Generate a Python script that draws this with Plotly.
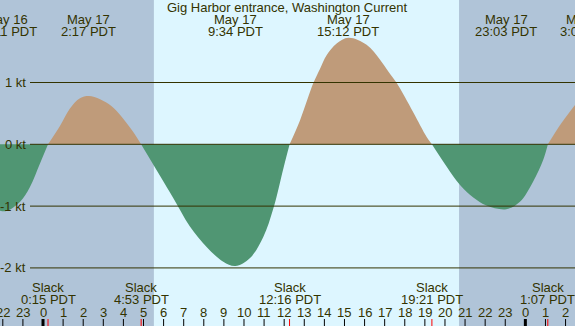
import plotly.graph_objects as go

W, H = 575, 326

# ---------------- data ----------------
title_text = "Gig Harbor entrance, Washington Current"

# current curve: hours after midnight May 17 (PDT) and speed in knots
curve_hours = [-2.2, -1.82, -1.14, -0.65, -0.15, 0.25,
               0.85, 1.34, 1.84, 2.28, 2.84, 3.4, 3.83, 4.49, 4.88,
               5.82, 6.48, 7.31, 8.14, 8.97, 9.57, 10.3, 10.96, 11.46, 11.96, 12.27,
               12.79, 13.45, 13.78, 14.11, 14.61, 15.2, 16.1, 16.77, 17.2, 17.6, 18.42, 19.09, 19.35,
               20.08, 20.75, 21.41, 22.07, 23.05, 23.73, 24.39, 24.89, 25.12,
               25.72, 26.5]
curve_kt = [-1.07, -1.08, -0.93, -0.69, -0.31, 0.0,
            0.3, 0.58, 0.745, 0.78, 0.73, 0.62, 0.48, 0.2, 0.0,
            -0.51, -0.87, -1.33, -1.66, -1.9, -1.97, -1.84, -1.5, -1.04, -0.39, 0.0,
            0.39, 0.99, 1.22, 1.44, 1.63, 1.725, 1.61, 1.37, 1.17, 0.99, 0.52, 0.12, 0.0,
            -0.36, -0.66, -0.86, -0.99, -1.05, -0.93, -0.6, -0.25, 0.0,
            0.31, 0.65]

max_dates = ["May 16", "May 17", "May 17", "May 17", "May 17", "May 18"]
max_times = ["22:11", "2:17", "9:34", "15:12", "23:03", "3:06"]
slack_dates = ["May 17", "May 17", "May 17", "May 17", "May 18"]
slack_times = ["0:15", "4:53", "12:16", "19:21", "1:07"]

sunrise = ("May 17", "5:31")
sunset = ("May 17", "20:42")

hour_ticks = list(range(-2, 27))
hour_labels = ["22", "23", "0", "1", "2", "3", "4", "5", "6", "7", "8", "9", "10",
               "11", "12", "13", "14", "15", "16", "17", "18", "19", "20", "21",
               "22", "23", "0", "1", "2"]

kt_ticks = [1, 0, -1, -2]
kt_labels = ["1 kt", "0 kt", "-1 kt", "-2 kt"]

# ---------------- style ----------------
FONT = "Liberation Sans"
FS = 13
TXT = "#333300"
DAY = "#ddf6ff"
NIGHT = "#b0c4d8"
FLOOD = "#bf9b7a"
EBB = "#509673"

X0, X1 = -2.14, 26.47
Y0, Y1 = -2.94, 2.335

day_offset = {"May 16": -24, "May 17": 0, "May 18": 24}


def to_hours(date, t):
    hh, mm = t.split(":")
    return day_offset[date] + int(hh) + int(mm) / 60.0


def xp(h):
    return (h - X0) / (X1 - X0)


def yp(py):
    return 1 - py / H


fig = go.Figure()

# curve segments between slack points
segs = []
cur = [(curve_hours[0], curve_kt[0])]
for h, v in zip(curve_hours[1:], curve_kt[1:]):
    cur.append((h, v))
    if v == 0:
        segs.append(cur)
        cur = [(h, v)]
if len(cur) > 1:
    segs.append(cur)

for s in segs:
    xs = [p[0] for p in s]
    ys = [p[1] for p in s]
    pos = max(ys, key=abs) > 0
    fig.add_trace(go.Scatter(
        x=xs, y=ys, mode="lines",
        line=dict(width=0, shape="spline", color=FLOOD if pos else EBB),
        fill="tozeroy", fillcolor=FLOOD if pos else EBB,
        hoverinfo="skip", showlegend=False))

shapes = []
# night shading
sr = to_hours(*sunrise)
ss = to_hours(*sunset)
for a, b in [(X0 - 1, sr), (ss, X1 + 1)]:
    shapes.append(dict(type="rect", xref="x", yref="paper", x0=a, x1=b, y0=0, y1=1,
                       fillcolor=NIGHT, line=dict(width=0), layer="below"))
# horizontal lines
for k in kt_ticks:
    shapes.append(dict(type="line", xref="paper", yref="y", x0=30 / W, x1=1, y0=k, y1=k,
                       line=dict(color=TXT, width=1), layer="above"))
# hour ticks
for h, lab in zip(hour_ticks, hour_labels):
    shapes.append(dict(type="line", xref="x", yref="paper", x0=h, x1=h, y0=0, y1=7 / H,
                       line=dict(color="#000000", width=3 if lab == "0" else 1), layer="above"))
# slack ticks
for d, t in zip(slack_dates, slack_times):
    h = to_hours(d, t)
    shapes.append(dict(type="line", xref="x", yref="paper", x0=h, x1=h, y0=0, y1=7 / H,
                       line=dict(color="#ff0000", width=1), layer="above"))

ann = []


def text(x, y, s, xanchor="center", xref="paper", yref="paper"):
    ann.append(dict(x=x, y=y, xref=xref, yref=yref, text=s, showarrow=False,
                    xanchor=xanchor, yanchor="middle",
                    font=dict(family=FONT, size=FS, color=TXT)))


text(0.5, yp(8), title_text)
for d, t in zip(max_dates, max_times):
    h = to_hours(d, t)
    text(xp(h), yp(19.5), d)
    text(xp(h), yp(31.3), t + " PDT")
for d, t in zip(slack_dates, slack_times):
    h = to_hours(d, t)
    text(xp(h), yp(287.7), "Slack")
    text(xp(h), yp(299.2), t + " PDT")
for h, lab in zip(hour_ticks, hour_labels):
    text(xp(h), yp(312.2), lab)
for k, lab in zip(kt_ticks, kt_labels):
    text(28 / W, k, lab, xanchor="right", yref="y")

fig.update_layout(
    width=W, height=H,
    margin=dict(l=0, r=0, t=0, b=0),
    plot_bgcolor=DAY, paper_bgcolor=DAY,
    xaxis=dict(range=[X0, X1], visible=False, fixedrange=True),
    yaxis=dict(range=[Y0, Y1], visible=False, fixedrange=True),
    shapes=shapes, annotations=ann,
    showlegend=False, hovermode=False,
)

fig.write_html("out.html", config={"displayModeBar": False},
               post_script="document.body.style.margin='0';document.body.style.padding='0';")
